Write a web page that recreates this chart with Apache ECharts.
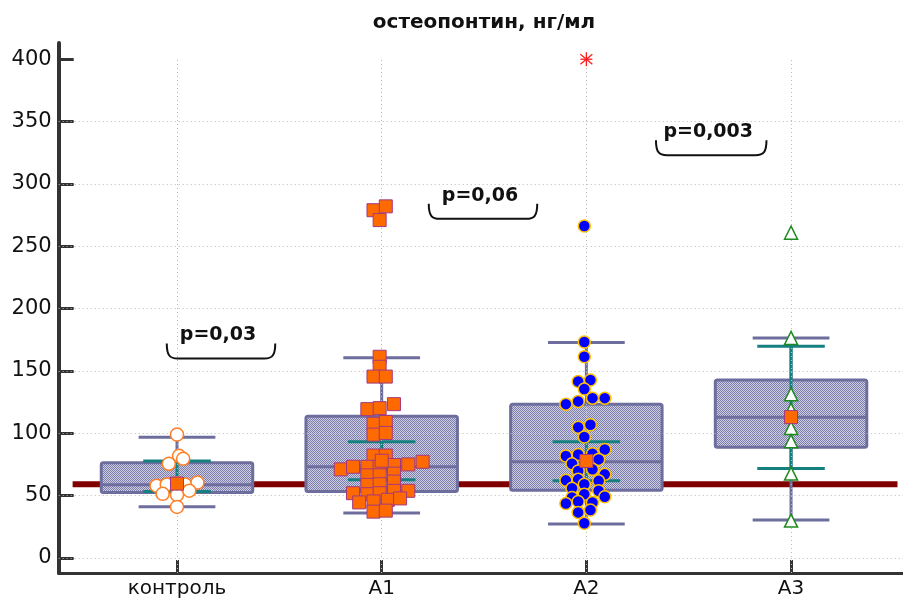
<!DOCTYPE html>
<html>
<head>
<meta charset="utf-8">
<script src="https://cdn.jsdelivr.net/npm/echarts@6/dist/echarts.min.js"></script>
<style>
  html, body { margin: 0; padding: 0; background: #fff; }
  #chart { width: 903px; height: 599px; }
</style>
</head>
<body>
<div id="chart"></div>
<script>
// группы и оси
const groups = ['контроль', 'A1', 'A2', 'A3'];
const yTicks = [0, 50, 100, 150, 200, 250, 300, 350, 400];

// боксплот: нижний ус, Q1, медиана, Q3, верхний ус
const whiskLow = [41.2, 36.1, 27.3, 30.5];
const q1 = [52.5, 53.3, 54.4, 88.9];
const median = [58.7, 73.2, 77.2, 112.8];
const q3 = [76.4, 113.6, 123.4, 142.8];
const whiskHigh = [96.9, 160.6, 172.8, 176.5];

// среднее и 95% ДИ
const means = [59.7, 78, 77.8, 113];
const ciLow = [53.3, 62.7, 61.9, 71.7];
const ciHigh = [77.8, 93.2, 93.2, 169.8];

// референсная линия
const refLevel = 59.2;
const refSpan = [-0.51, 3.52];

// точки: [смещение по x, значение]
const pointsControl = [[0.00, 99], [0.01, 82], [0.03, 79.6], [-0.04, 75.6], [-0.10, 58], [-0.05, 59],
  [0.04, 59], [0.10, 60.5], [-0.07, 51.5], [0.06, 54], [0.00, 50.7], [0.00, 41], [0.00, 60]];
const pointsA1 = [[-0.01, 161.4], [-0.01, 153.4], [-0.04, 145.5], [0.02, 145.5], [-0.07, 119.4], [-0.01, 120.2],
  [0.06, 123.4], [-0.04, 107.7], [0.02, 109.1], [-0.04, 99], [0.02, 100.3], [-0.04, 82.2], [0.02, 82.2],
  [-0.20, 71.1], [-0.14, 73.2], [-0.07, 73.2], [-0.01, 73.2], [0.06, 74.6], [0.13, 75.1], [0.20, 77.2],
  [-0.07, 66.3], [-0.01, 66.3], [0.06, 67.7], [0.06, 61.3], [-0.07, 58.7], [-0.01, 59.2], [0.06, 53.9],
  [0.13, 53.9], [-0.14, 52], [-0.07, 51.2], [-0.01, 52], [0.03, 46.7], [0.09, 47.8], [-0.11, 44.6],
  [-0.04, 45.4], [-0.04, 37.2], [0.02, 38], [-0.04, 278.9], [0.02, 282], [-0.01, 271]];
const pointsA2 = [[-0.01, 173.3], [-0.01, 161.4], [-0.04, 141.5], [0.02, 142.8], [-0.01, 135.6], [-0.10, 123.4],
  [-0.04, 125.6], [0.03, 128.2], [0.09, 128.2], [-0.04, 104.9], [0.02, 106.9], [-0.01, 97.1], [0.09, 87],
  [-0.10, 81.8], [-0.04, 83], [0.03, 83.6], [0.06, 79.1], [-0.07, 75.6], [-0.04, 69.8], [0.03, 71.1],
  [0.09, 67.1], [-0.10, 62.3], [-0.04, 63.1], [-0.01, 59.2], [0.06, 61.9], [-0.07, 56], [-0.01, 51.2],
  [0.06, 53.9], [-0.07, 48.6], [0.09, 49.1], [-0.10, 43.8], [-0.04, 45.4], [0.03, 44.6], [-0.04, 36.6],
  [0.02, 38.5], [-0.01, 27.9], [-0.01, 266.2]];
const pointsA3 = [[0, 260.9], [0, 176.5], [0, 131.4], [0, 118.9], [0, 104.3], [0, 93.7], [0, 67.7], [0, 30]];
const extremeA2 = [[2, 400]];

// p-значения
const pLabels = ['p=0,03', 'p=0,06', 'p=0,003'];
const pFrom = [-0.05, 1.23, 2.34];
const pTo = [0.48, 1.76, 2.88];
const pLevel = [160, 272, 323];

const FONT = '"DejaVu Sans", sans-serif';
const X_MIN = -0.578, X_MAX = 3.547;
const Y_MIN = -12, Y_MAX = 413;
const BOX_W = 0.74, CAP_W = 0.375, CI_W = 0.33;
const BOX_COLOR = '#6e6e9e';

// штриховка бокса
const pat = document.createElement('canvas');
pat.width = 2; pat.height = 2;
const pctx = pat.getContext('2d');
pctx.fillStyle = '#cdcde2'; pctx.fillRect(0, 0, 2, 2);
pctx.fillStyle = '#7e7eac'; pctx.fillRect(0, 0, 1, 1); pctx.fillRect(1, 1, 1, 1);
const boxFill = { image: pat, repeat: 'repeat' };

const toXY = (pts, g) => pts.map(p => [g + p[0], p[1]]);

const boxData = groups.map((g, i) => [i, whiskLow[i], q1[i], median[i], q3[i], whiskHigh[i]]);
const ciData = groups.map((g, i) => [i, ciLow[i], ciHigh[i]]);
const meanData = groups.map((g, i) => [i, means[i]]);
const bracketData = pLabels.map((l, i) => [pFrom[i], pTo[i], pLevel[i], i]);

const gridLines = [];
yTicks.filter(v => v < 400).forEach(v => gridLines.push([{ coord: [X_MIN, v] }, { coord: [X_MAX, v] }]));
groups.forEach((g, i) => gridLines.push([{ coord: [i, Y_MIN] }, { coord: [i, 400] }]));

function renderBox(params, api) {
  const i = api.value(0);
  const w = api.size([1, 0])[0];
  const lo = api.coord([i, api.value(1)]);
  const b1 = api.coord([i, api.value(2)]);
  const md = api.coord([i, api.value(3)]);
  const b3 = api.coord([i, api.value(4)]);
  const hi = api.coord([i, api.value(5)]);
  const x = lo[0], bw = w * BOX_W / 2, cw = w * CAP_W / 2;
  const st = { stroke: BOX_COLOR, lineWidth: 3 };
  return {
    type: 'group',
    children: [
      { type: 'line', shape: { x1: x, y1: b1[1], x2: x, y2: lo[1] }, style: st },
      { type: 'line', shape: { x1: x, y1: b3[1], x2: x, y2: hi[1] }, style: st },
      { type: 'line', shape: { x1: x - cw, y1: lo[1], x2: x + cw, y2: lo[1] }, style: st },
      { type: 'line', shape: { x1: x - cw, y1: hi[1], x2: x + cw, y2: hi[1] }, style: st },
      { type: 'rect', shape: { x: x - bw, y: b3[1], width: 2 * bw, height: b1[1] - b3[1], r: 2 },
        style: { fill: boxFill, stroke: BOX_COLOR, lineWidth: 3 } },
      { type: 'line', shape: { x1: x - bw, y1: md[1], x2: x + bw, y2: md[1] }, style: st }
    ]
  };
}

function renderCI(params, api) {
  const i = api.value(0);
  const w = api.size([1, 0])[0];
  const lo = api.coord([i, api.value(1)]);
  const hi = api.coord([i, api.value(2)]);
  const x = lo[0], hw = w * CI_W / 2;
  const st = { stroke: '#14807f', lineWidth: 3 };
  return {
    type: 'group',
    children: [
      { type: 'line', shape: { x1: x, y1: lo[1], x2: x, y2: hi[1] }, style: st },
      { type: 'line', shape: { x1: x - hw, y1: lo[1], x2: x + hw, y2: lo[1] }, style: st },
      { type: 'line', shape: { x1: x - hw, y1: hi[1], x2: x + hw, y2: hi[1] }, style: st }
    ]
  };
}

function renderBracket(params, api) {
  const a = api.coord([api.value(0), api.value(2)]);
  const b = api.coord([api.value(1), api.value(2)]);
  const y = a[1], x0 = a[0], x1 = b[0];
  const h = 15, r = 11;
  const path = 'M' + x0 + ' ' + (y - h) +
    ' C' + x0 + ' ' + (y - 3) + ' ' + (x0 + 3) + ' ' + y + ' ' + (x0 + r) + ' ' + y +
    ' L' + (x1 - r) + ' ' + y +
    ' C' + (x1 - 3) + ' ' + y + ' ' + x1 + ' ' + (y - 3) + ' ' + x1 + ' ' + (y - h);
  return {
    type: 'group',
    children: [
      { type: 'path', shape: { pathData: path }, style: { fill: 'none', stroke: '#111', lineWidth: 2 } },
      { type: 'text', x: (x0 + x1) / 2 - 3, y: y - 23,
        style: { text: pLabels[api.value(3)], fill: '#111', font: 'bold 19px ' + FONT,
          align: 'center', verticalAlign: 'middle' } }
    ]
  };
}

function renderStar(params, api) {
  const p = api.coord([api.value(0), api.value(1)]);
  const st = { stroke: '#ff1a1a', lineWidth: 1.3 };
  const x = p[0], y = p[1];
  return {
    type: 'group',
    children: [
      { type: 'line', shape: { x1: x, y1: y - 7, x2: x, y2: y + 7 }, style: st },
      { type: 'line', shape: { x1: x - 6, y1: y - 5, x2: x + 6, y2: y + 5 }, style: st },
      { type: 'line', shape: { x1: x - 6, y1: y + 5, x2: x + 6, y2: y - 5 }, style: st },
      { type: 'line', shape: { x1: x - 6, y1: y, x2: x + 6, y2: y }, style: st }
    ]
  };
}

const chart = echarts.init(document.getElementById('chart'));
chart.setOption({
  animation: false,
  backgroundColor: '#fff',
  textStyle: { fontFamily: FONT },
  title: {
    text: 'остеопонтин, нг/мл',
    left: 484, top: 13, textAlign: 'center', padding: 0,
    textStyle: { fontFamily: FONT, fontSize: 20, fontWeight: 'bold', color: '#111' }
  },
  grid: { left: 58.7, right: 0, top: 43, bottom: 23 },
  xAxis: {
    type: 'value', min: X_MIN, max: X_MAX,
    axisLine: { onZero: false, lineStyle: { color: '#333', width: 3 } },
    axisTick: { customValues: [0, 1, 2, 3], inside: true, length: 13, lineStyle: { color: '#333', width: 3 } },
    axisLabel: { customValues: [0, 1, 2, 3], formatter: v => groups[v], fontSize: 20, color: '#111',
      fontFamily: FONT, margin: 6 },
    splitLine: { show: false }
  },
  yAxis: {
    type: 'value', min: Y_MIN, max: Y_MAX,
    axisLine: { show: true, onZero: false, lineStyle: { color: '#333', width: 4 } },
    axisTick: { show: true, customValues: yTicks, inside: true, length: 15, lineStyle: { color: '#333', width: 3 } },
    axisLabel: { customValues: yTicks, fontSize: 21, color: '#111', fontFamily: FONT, margin: 7 },
    splitLine: { show: false }
  },
  series: [
    {
      type: 'line', data: [], z: 1, silent: true,
      markLine: {
        silent: true, symbol: ['none', 'none'], label: { show: false },
        lineStyle: { color: '#b8b8b8', type: [1, 3], width: 1 },
        emphasis: { disabled: true },
        data: gridLines
      }
    },
    {
      type: 'line', z: 2, silent: true, symbol: 'none',
      data: [[refSpan[0], refLevel], [refSpan[1], refLevel]],
      lineStyle: { color: '#800000', width: 6 }
    },
    { type: 'custom', z: 3, silent: true, renderItem: renderBox, data: boxData, encode: { x: 0, y: [1, 2, 3, 4, 5] } },
    { type: 'custom', z: 4, silent: true, renderItem: renderCI, data: ciData, encode: { x: 0, y: [1, 2] } },
    {
      type: 'scatter', z: 5, symbol: 'circle', symbolSize: 13, data: toXY(pointsControl, 0),
      itemStyle: { color: '#fff', borderColor: '#ff7f27', borderWidth: 1.5, opacity: 1 }
    },
    {
      type: 'scatter', z: 5, symbol: 'rect', symbolSize: 13, data: toXY(pointsA1, 1),
      itemStyle: { color: '#ff6a00', borderColor: '#a3387e', borderWidth: 1, opacity: 1 }
    },
    {
      type: 'scatter', z: 5, symbol: 'circle', symbolSize: 12, data: toXY(pointsA2, 2),
      itemStyle: { color: '#0000ff', borderColor: '#ffc000', borderWidth: 1.5, opacity: 1 }
    },
    {
      type: 'scatter', z: 5, symbol: 'triangle', symbolSize: 13, data: toXY(pointsA3, 3),
      itemStyle: { color: '#fff', borderColor: '#1f8a1f', borderWidth: 1.5, opacity: 1 }
    },
    {
      type: 'scatter', z: 6, symbol: 'rect', symbolSize: 13, data: meanData,
      itemStyle: { color: '#ff6a00', borderColor: '#a3387e', borderWidth: 1, opacity: 1 }
    },
    { type: 'custom', z: 6, silent: true, renderItem: renderStar, data: extremeA2, encode: { x: 0, y: 1 } },
    { type: 'custom', z: 6, silent: true, renderItem: renderBracket, data: bracketData, encode: { x: [0, 1], y: 2 } }
  ]
});
</script>
</body>
</html>
